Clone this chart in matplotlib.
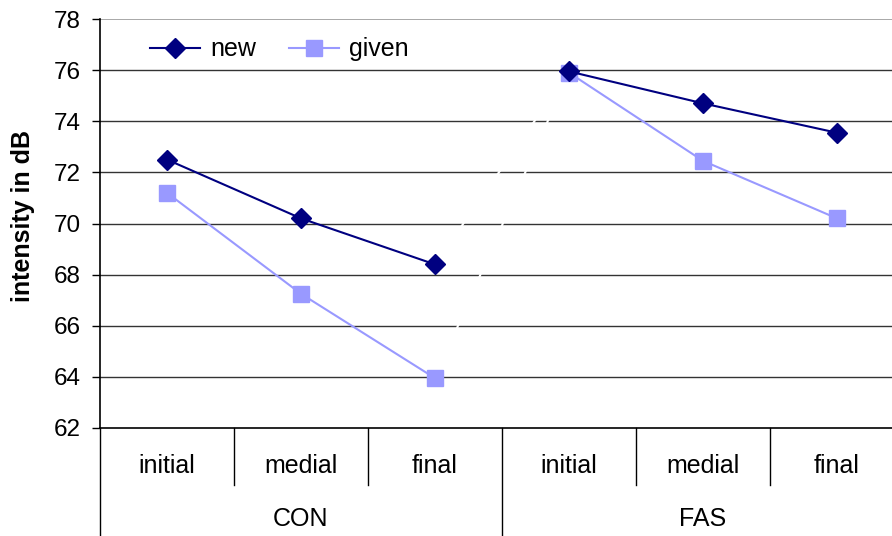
import matplotlib.pyplot as plt

plt.rcParams["font.family"] = ["Liberation Sans", "DejaVu Sans"]

groups = ["CON", "FAS"]
positions = ["initial", "medial", "final"]
new = [72.5, 70.2, 68.4, 75.95, 74.7, 73.55]
given = [71.2, 67.25, 63.95, 75.9, 72.45, 70.2]
yticks = [62, 64, 66, 68, 70, 72, 74, 76, 78]

fig = plt.figure(figsize=(8.92, 5.36), dpi=100)
ax = fig.add_axes([100 / 892, 108 / 536, 792 / 892, 409 / 536])

x = list(range(len(new)))
n = len(positions)

# gridlines
for v in yticks[1:-1]:
    ax.axhline(v, color="#333333", lw=1.0, zorder=1)
ax.axhline(yticks[-1], color="#999999", lw=1.2, zorder=1)

# series, drawn per group; the gap between groups is a white line like excel
for g in range(len(groups)):
    xs = x[g * n:(g + 1) * n]
    ax.plot(xs, new[g * n:(g + 1) * n], color="#000080", lw=1.5, marker="D",
            ms=10, zorder=4, label="new" if g == 0 else None)
    ax.plot(xs, given[g * n:(g + 1) * n], color="#9999FF", lw=1.5, marker="s",
            ms=11, zorder=3, label="given" if g == 0 else None)
ax.plot([x[n - 1], x[n]], [new[n - 1], new[n]], color="white", lw=1.5, zorder=2)
ax.plot([x[n - 1], x[n]], [given[n - 1], given[n]], color="white", lw=1.5, zorder=2)

ax.set_ylim(62, 78)
ax.set_xlim(-0.5, 5.5 - 12 / 134)
ax.set_yticks(yticks)
ax.tick_params(axis="y", labelsize=17.5, length=6, width=1, direction="out", pad=8)
ax.set_xticks([])
for s in ["top", "right"]:
    ax.spines[s].set_visible(False)
ax.spines["left"].set_linewidth(1.2)
ax.spines["bottom"].set_linewidth(1.2)

ax.set_ylabel("intensity in dB", fontsize=18, fontweight="bold")
ax.yaxis.set_label_coords(-0.082, 0.518)

# two-level category axis
tr = ax.get_xaxis_transform()
for i, lab in enumerate(positions * len(groups)):
    ax.text(i, -0.093, lab, transform=tr, ha="center", va="center", fontsize=18)
for g, lab in enumerate(groups):
    ax.text(g * n + (n - 1) / 2, -0.222, lab, transform=tr, ha="center",
            va="center", fontsize=18)
for i in range(len(x) + 1):
    xb = i - 0.5
    y0 = -0.262 if i % n == 0 else -0.139
    ax.plot([xb, xb], [0, y0], transform=tr, color="black", lw=1, clip_on=False)

ax.legend(loc="upper left", bbox_to_anchor=(0.035, 1.01), ncol=2, frameon=False,
          fontsize=18, handlelength=2.0, columnspacing=1.3, handletextpad=0.4)

fig.savefig("out.png", dpi=100)
